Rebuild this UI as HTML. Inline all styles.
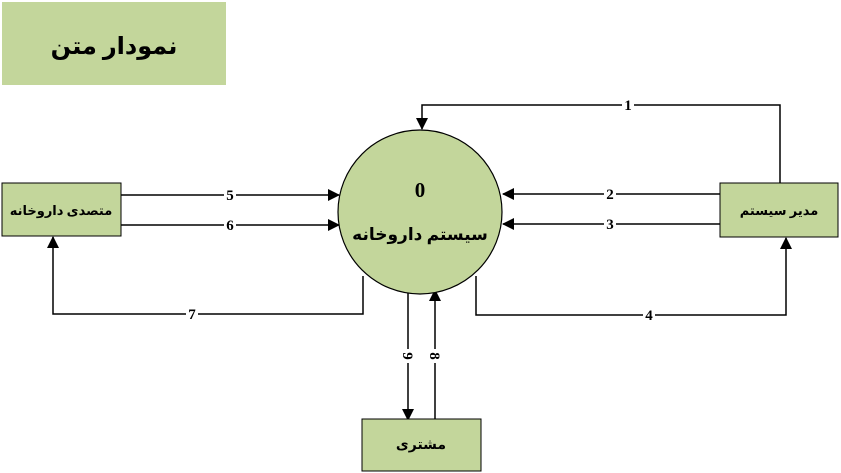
<!DOCTYPE html>
<html><head><meta charset="utf-8"><style>body{margin:0;background:#fff}svg{display:block}text{font-family:"Liberation Serif","Noto Serif CJK SC","DejaVu Sans",serif;font-weight:bold;fill:#000}</style></head><body>
<svg width="841" height="473" viewBox="0 0 841 473" xmlns="http://www.w3.org/2000/svg">
<defs><marker id="a" markerWidth="12" markerHeight="12" refX="11" refY="6" orient="auto" markerUnits="userSpaceOnUse"><path d="M0,0 L12,6 L0,12 z" fill="#000"/></marker></defs>
<rect x="2" y="2" width="224" height="83" fill="#c3d69b"/>
<text x="114" y="54" font-size="24" text-anchor="middle">نمودار متن</text>
<g stroke="#000" stroke-width="1.5" fill="none">
<polyline points="780,183 780,105 422,105 422,129" marker-end="url(#a)"/>
<line x1="720" y1="194" x2="503" y2="194" marker-end="url(#a)"/>
<line x1="720" y1="224" x2="503" y2="224" marker-end="url(#a)"/>
<polyline points="476,276 476,315 786,315 786,238" marker-end="url(#a)"/>
<line x1="121" y1="195" x2="339" y2="195" marker-end="url(#a)"/>
<line x1="121" y1="225" x2="339" y2="225" marker-end="url(#a)"/>
<polyline points="363,276 363,314 53,314 53,237" marker-end="url(#a)"/>
<line x1="408" y1="292" x2="408" y2="420" marker-end="url(#a)"/>
<line x1="435" y1="419" x2="435" y2="290" marker-end="url(#a)"/>
</g>
<circle cx="420" cy="212" r="82" fill="#c3d69b" stroke="#000" stroke-width="1.2"/>
<text x="420" y="197" font-size="21" text-anchor="middle">0</text>
<text x="420" y="240" font-size="17" text-anchor="middle">سیستم داروخانه</text>
<rect x="2" y="183" width="119" height="53" fill="#c3d69b" stroke="#000"/>
<text x="61" y="215" font-size="13" text-anchor="middle">متصدی داروخانه</text>
<rect x="720" y="183" width="118" height="54" fill="#c3d69b" stroke="#000"/>
<text x="779" y="215" font-size="13" text-anchor="middle">مدیر سیستم</text>
<rect x="362" y="419" width="119" height="52" fill="#c3d69b" stroke="#000"/>
<text x="421" y="449" font-size="14" text-anchor="middle">مشتری</text>
<g font-size="15">
<rect x="622" y="98" width="12" height="14" fill="#fff"/><text x="628" y="110" text-anchor="middle">1</text>
<rect x="604" y="187" width="12" height="14" fill="#fff"/><text x="610" y="199" text-anchor="middle">2</text>
<rect x="604" y="217" width="12" height="14" fill="#fff"/><text x="610" y="229" text-anchor="middle">3</text>
<rect x="643" y="308" width="12" height="14" fill="#fff"/><text x="649" y="320" text-anchor="middle">4</text>
<rect x="224" y="188" width="12" height="14" fill="#fff"/><text x="230" y="200" text-anchor="middle">5</text>
<rect x="224" y="218" width="12" height="14" fill="#fff"/><text x="230" y="230" text-anchor="middle">6</text>
<rect x="186" y="307" width="12" height="14" fill="#fff"/><text x="192" y="319" text-anchor="middle">7</text>
<rect x="401" y="349" width="14" height="14" fill="#fff"/><text transform="translate(403,356) rotate(90)" text-anchor="middle">9</text>
<rect x="428" y="349" width="14" height="14" fill="#fff"/><text transform="translate(430,356) rotate(90)" text-anchor="middle">8</text>
</g>
</svg>
</body></html>
